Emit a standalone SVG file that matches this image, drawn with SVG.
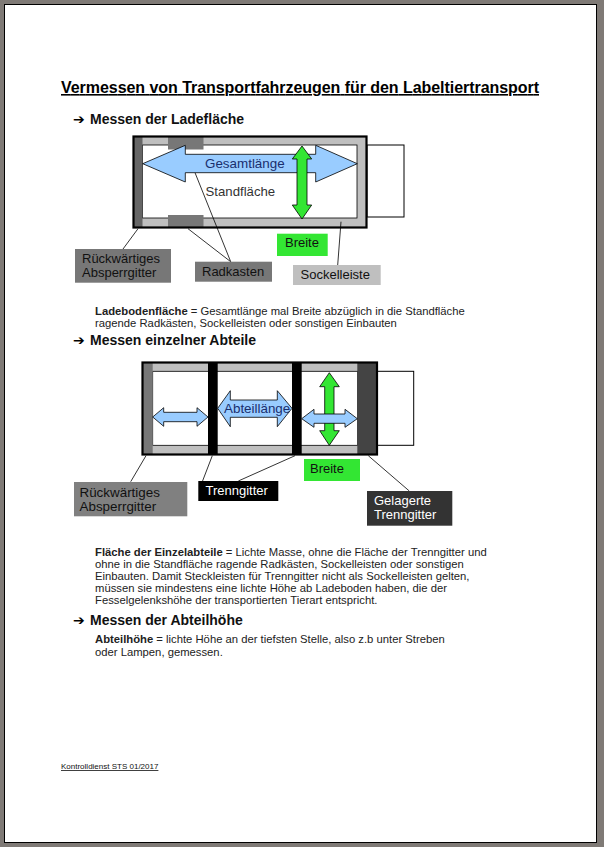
<svg xmlns="http://www.w3.org/2000/svg" width="604" height="847" viewBox="0 0 604 847">
<style>
text{font-family:"Liberation Sans",Arial,sans-serif;fill:#111}
.h{font-weight:bold;font-size:14px}
.a{font-size:14px;font-family:"DejaVu Sans",sans-serif;fill:#000}
.b{font-size:11.28px;fill:#222}
.l{font-size:13px}
.lw{font-size:13px;fill:#fff}
.d{font-size:13px;fill:#333}
.ln{stroke:#000;stroke-width:.8;fill:none}
.blue{fill:#99ccff;stroke:#000;stroke-width:.8}
.green{fill:#33e633;stroke:#000;stroke-width:.8}
.lg{fill:#bfbfbf}
.out{fill:none;stroke:#000;stroke-width:2.2}
.cab{fill:#fff;stroke:#000;stroke-width:1}
</style>
<rect width="604" height="847" fill="#7f7a76"/>
<rect x="4.5" y="4.5" width="592" height="838" fill="#fff" stroke="#000" stroke-width="1"/>
<text id="title" x="61" y="93" font-size="16" font-weight="bold" text-decoration="underline" textLength="478" style="fill:#000">Vermessen von Transportfahrzeugen für den Labeltiertransport</text>
<text class="a" x="73" y="124">➔</text>
<text class="h" x="90" y="124">Messen der Ladefläche</text>

<g id="truck1">
<rect class="cab" x="367" y="145" width="37" height="72"/>
<rect class="lg" x="133" y="136" width="234" height="92"/>
<rect x="142.500" y="145" width="214.500" height="73" fill="#fff" stroke="#000" stroke-width=".8"/>
<rect x="133.500" y="137" width="9" height="90" fill="#666"/>
<rect id="rad1" x="168" y="137" width="35.500" height="12.500" fill="#777"/>
<rect id="rad2" x="168" y="215" width="35.500" height="12" fill="#777"/>
<rect class="out" x="133.500" y="136.500" width="233" height="91"/>
</g>
<g id="connectors1">
<path class="ln" d="M195 172.700L230.700 261.700M188 228.700L230.700 261.700M138 228.700L123 249M341 221.700L337.700 265"/>
</g>
<g id="arrow-gesamt">
<path class="blue" d="M142.700 163.700L185.300 145.300V154.300H315.700V145.300L357.300 163.700L315.700 182V172.700H185.300V182Z"/>
<text x="205" y="168" font-size="13.400" style="fill:#1a2f6e">Gesamtlänge</text>
</g>
<g id="arrow-breite1">
<path class="green" d="M302 146L311.700 159H307V205H311.700L302 219L292.300 205H297V159H292.300Z"/>
</g>
<g id="standflaeche"><text x="205.500" y="196" font-size="13.200" style="fill:#333">Standfläche</text></g>
<g id="n-rueck1"><rect x="75" y="249" width="96" height="33.700" fill="#777"/><text class="l" x="82" y="263">Rückwärtiges</text><text class="l" x="82" y="277">Absperrgitter</text></g>
<g id="n-rad"><rect x="195" y="261.700" width="77" height="20" fill="#777"/><text class="l" x="202" y="276">Radkasten</text></g>
<g id="n-sockel"><rect x="293" y="265" width="87.700" height="20" fill="#bfbfbf"/><text class="l" x="300.500" y="279">Sockelleiste</text></g>
<g id="n-breite1"><rect x="277" y="233.700" width="50.700" height="22.300" fill="#33e633"/><text class="l" x="285" y="247">Breite</text></g>

<text class="b" x="95" y="315"><tspan font-weight="bold">Ladebodenfläche</tspan> = Gesamtlänge mal Breite abzüglich in die Standfläche</text>
<text class="b" x="95" y="327">ragende Radkästen, Sockelleisten oder sonstigen Einbauten</text>
<text class="a" x="73" y="345">➔</text>
<text class="h" x="90" y="345">Messen einzelner Abteile</text>

<g id="truck2">
<rect class="cab" x="377" y="371.300" width="36.700" height="74"/>
<rect class="lg" x="142" y="362" width="235" height="93"/>
<rect x="152.700" y="371.300" width="205" height="74" fill="#fff" stroke="#000" stroke-width=".8"/>
<rect x="143" y="363" width="9.700" height="91" fill="#777"/>
<rect x="208" y="362" width="9.700" height="93" fill="#000"/>
<rect x="292" y="362" width="9.700" height="93" fill="#000"/>
<rect x="357.300" y="362" width="19.500" height="93" fill="#444"/>
<rect class="out" x="142.500" y="362.500" width="234.500" height="92"/>
</g>
<g id="connectors2">
<path class="ln" d="M146 455.700L130.700 481.700M212.300 455.700L202.300 481.700M295 455.700L238.300 481M368.300 455.700L409.300 491"/>
</g>
<g id="arrow-a1"><path class="blue" d="M152.700 417L163.700 407.700V412.300H197V407.700L208 417L197 426.300V421.700H163.700V426.300Z"/></g>
<g id="arrow-a2"><path class="blue" d="M217.700 408.300L230.300 390.700V400H277.300V390.700L292 408.300L277.300 426.700V417.300H230.300V426.700Z"/>
<text x="224" y="413" font-size="13.400" style="fill:#1a2f6e">Abteillänge</text></g>
<g id="arrow-breite2"><path class="green" d="M329.300 372.700L339.300 386.700H334V430.700H339.300L329.300 445.300L319.700 430.700H324.700V386.700H319.700Z"/></g>
<g id="arrow-a3"><path class="blue" d="M301.700 418.700L314 409.300V414H345V409.300L357.300 418.700L345 427.300V423.300H314V427.300Z"/></g>
<g id="n-rueck2"><rect x="74" y="482" width="113.300" height="34.300" fill="#808080"/><text x="79.500" y="497" font-size="13.400">Rückwärtiges</text><text x="79.500" y="511" font-size="13.400">Absperrgitter</text></g>
<g id="n-trenn"><rect x="198.300" y="481" width="80" height="20" fill="#000"/><text class="lw" x="205.500" y="495">Trenngitter</text></g>
<g id="n-breite2"><rect x="304" y="459" width="56" height="22" fill="#33e633"/><text class="l" x="310" y="473">Breite</text></g>
<g id="n-gelagert"><rect x="367" y="491" width="85.300" height="34.700" fill="#333"/><text class="lw" x="374" y="505">Gelagerte</text><text class="lw" x="374" y="519">Trenngitter</text></g>

<text class="b" x="95" y="556"><tspan font-weight="bold">Fläche der Einzelabteile</tspan> = Lichte Masse, ohne die Fläche der Trenngitter und</text>
<text class="b" x="95" y="568">ohne in die Standfläche ragende Radkästen, Sockelleisten oder sonstigen</text>
<text class="b" x="95" y="580">Einbauten. Damit Steckleisten für Trenngitter nicht als Sockelleisten gelten,</text>
<text class="b" x="95" y="592">müssen sie mindestens eine lichte Höhe ab Ladeboden haben, die der</text>
<text class="b" x="95" y="604">Fesselgelenkshöhe der transportierten Tierart entspricht.</text>
<text class="a" x="73" y="624.500">➔</text>
<text class="h" x="90" y="624.500">Messen der Abteilhöhe</text>
<text class="b" x="95" y="643"><tspan font-weight="bold">Abteilhöhe</tspan> = lichte Höhe an der tiefsten Stelle, also z.b unter Streben</text>
<text class="b" x="95" y="656">oder Lampen, gemessen.</text>
<text x="61" y="769" font-size="8" text-decoration="underline">Kontrolldienst STS 01/2017</text>
</svg>
